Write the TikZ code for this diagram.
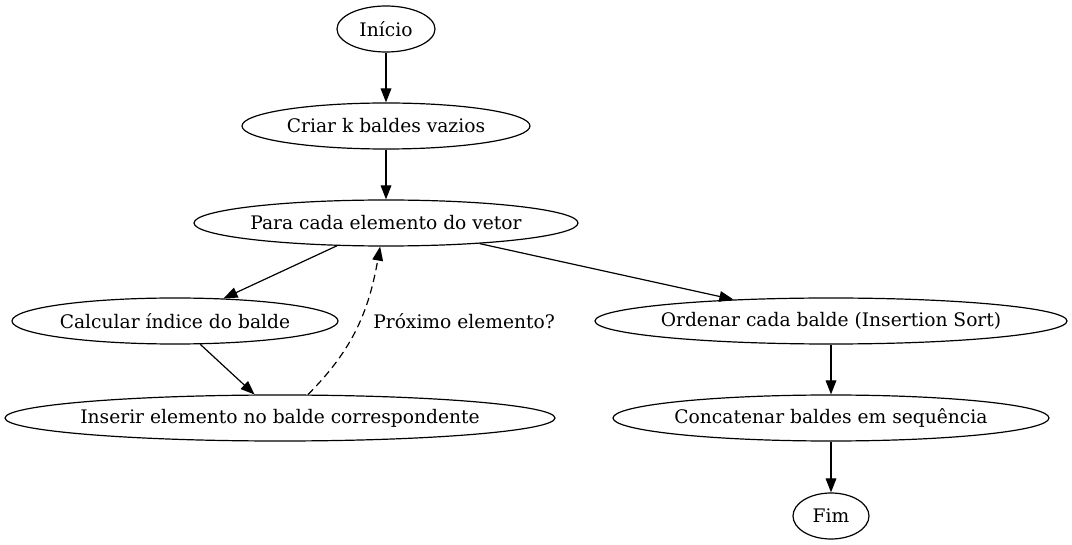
\documentclass[tikz,border=0pt]{standalone}
\usepackage{fontspec}
\setmainfont{DejaVu Serif}
\usetikzlibrary{shapes.geometric,arrows.meta}
\newcommand{\zb}[1]{\makebox[0pt]{#1}}
\begin{document}
\begin{tikzpicture}[x=0.75pt,y=-0.75pt,
  every node/.style={font=\fontsize{14}{17}\selectfont},
  st/.style={draw,ellipse,line width=0.9pt,inner sep=0pt,minimum height=34.5pt},
  arr/.style={line width=0.9pt,-{Triangle[length=10.5pt,width=8pt]}}]
\useasboundingbox (0,0) rectangle (1072,545);
\node[st,minimum width=73.5pt] (ini) at (386,29) {\zb{Início}};
\node[st,minimum width=216pt] (cri) at (386,126) {\zb{Criar k baldes vazios}};
\node[st,minimum width=288pt] (para) at (386,223) {\zb{Para cada elemento do vetor}};
\node[st,minimum width=244.5pt] (calc) at (175,321) {\zb{Calcular índice do balde}};
\node[st,minimum width=354pt] (ord) at (831,321) {\zb{Ordenar cada balde (Insertion Sort)}};
\node[st,minimum width=412.5pt] (ins) at (280,418) {\zb{Inserir elemento no balde correspondente}};
\node[st,minimum width=327pt] (conc) at (831,418) {\zb{Concatenar baldes em sequência}};
\node[st,minimum width=57pt] (fim) at (831,516) {\zb{Fim}};
\draw[arr] (ini) -- (cri);
\draw[arr] (cri) -- (para);
\draw[arr] (para) -- (calc);
\draw[arr] (para) -- (ord);
\draw[arr] (calc) -- (ins);
\draw[arr,dash pattern=on 5.5pt off 3.5pt] (ins.40.6) to[out=45,in=-100] (para.256.5);
\node[anchor=west,inner sep=0pt] (lbl) at (373,321) {Próximo elemento?};
\draw[arr] (ord) -- (conc);
\draw[arr] (conc) -- (fim);
\end{tikzpicture}
\end{document}
